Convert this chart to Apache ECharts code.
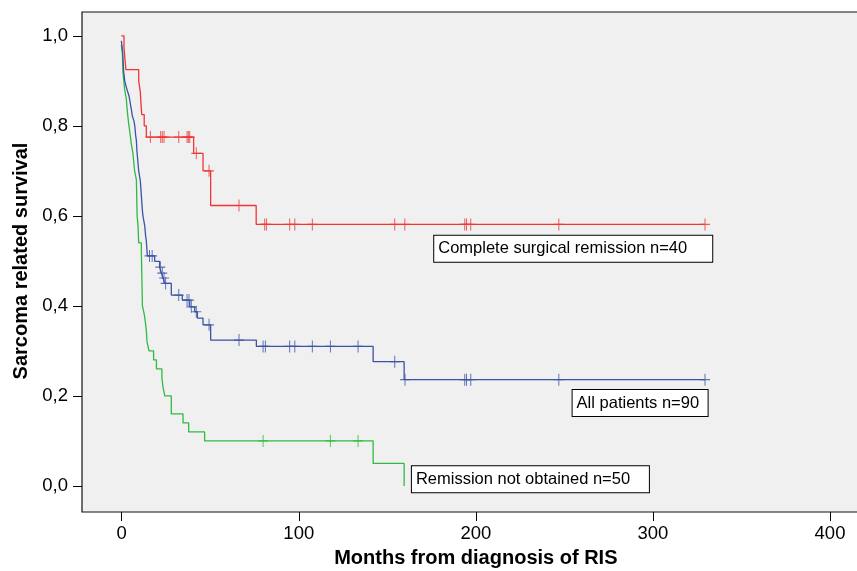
<!DOCTYPE html>
<html>
<head>
<meta charset="utf-8">
<script src="https://cdn.jsdelivr.net/npm/echarts@6/dist/echarts.min.js"></script>
<style>
  html, body { margin: 0; padding: 0; background: #fff; }
  #chart { width: 857px; height: 571px; }
</style>
</head>
<body>
<div id="chart"></div>
<script>
// Kaplan-Meier steps: [months, survival after the drop]
const redSteps = [[0, 1], [1.5, 0.975], [2.0, 0.95], [2.6, 0.925], [9.8, 0.9], [10.7, 0.875], [11.5, 0.825],
  [12.9, 0.8], [14.1, 0.775], [40.8, 0.739], [46.1, 0.7], [50.4, 0.623], [76.1, 0.581], [329.4, 0.581]];
const redCensor = [16.4, 22.2, 23.1, 24.1, 32.4, 37.1, 37.8, 38.6, 42.3, 49.5, 66.4, 80.9, 81.9, 95, 97.9,
  107.8, 154.3, 160, 193.8, 194.8, 197.2, 246.9, 329.4];

const blueSteps = [[0, 0.989], [0.7, 0.967], [1.0, 0.944], [1.3, 0.922], [1.9, 0.9], [2.6, 0.889], [3.4, 0.878],
  [4.3, 0.867], [4.8, 0.856], [5.3, 0.844], [5.8, 0.833], [6.2, 0.822], [7.1, 0.811], [7.6, 0.8], [8.1, 0.778],
  [8.5, 0.767], [8.8, 0.744], [9.3, 0.722], [9.8, 0.7], [10.7, 0.678], [11.1, 0.656], [11.5, 0.633],
  [11.9, 0.611], [12.2, 0.6], [13.2, 0.578], [13.7, 0.556], [14.1, 0.544], [14.5, 0.522], [14.7, 0.511],
  [18.8, 0.499], [21.6, 0.486], [22.6, 0.473], [23.6, 0.462], [24.4, 0.45], [28.2, 0.424], [34.4, 0.413],
  [38.6, 0.398], [41.4, 0.387], [42.9, 0.373], [46.1, 0.358], [50.4, 0.324], [76.2, 0.31], [142.1, 0.276],
  [159.6, 0.236], [329.4, 0.236]];
const blueCensor = [15.9, 17.4, 22.0, 23.1, 24.1, 25.0, 32.4, 37.1, 38.2, 39.5, 42.3, 49.5, 66.4, 80.0, 81.3,
  95, 97.9, 107.8, 118, 133.6, 154.3, 160.1, 193.8, 194.8, 197.2, 246.9, 329.4];

const greenSteps = [[0, 0.98], [0.6, 0.96], [0.9, 0.92], [1.4, 0.9], [1.9, 0.88], [2.8, 0.86], [3.2, 0.84],
  [3.7, 0.82], [4.3, 0.8], [5.0, 0.78], [5.6, 0.76], [6.5, 0.74], [7.0, 0.72], [7.5, 0.7], [8.5, 0.68],
  [8.7, 0.64], [8.9, 0.6], [9.4, 0.58], [9.8, 0.54], [11.3, 0.52], [11.5, 0.48], [11.7, 0.44], [11.9, 0.4],
  [13.0, 0.38], [13.7, 0.36], [14.2, 0.34], [14.5, 0.32], [15.6, 0.3], [18.2, 0.28], [19.8, 0.26],
  [22.9, 0.24], [23.5, 0.22], [24.5, 0.2], [28.2, 0.16], [34.8, 0.14], [38.0, 0.12], [47.0, 0.1],
  [142.1, 0.05], [159.6, 0]];
const greenCensor = [80.0, 118.0, 133.6];

const groupLabels = ['Complete surgical remission n=40', 'All patients n=90', 'Remission not obtained n=50'];
const xName = 'Months from diagnosis of RIS';
const yName = 'Sarcoma related survival';

const FONT = "'Liberation Sans', Arial, sans-serif";
const RED = '#ee3636', BLUE = '#3b52a6', GREEN = '#2fba40';
// plus-shaped censor tick
const PLUS = 'path://M45,0H55V100H45ZM0,45H100V55H0Z';

// survival level of a curve at time t (for placing censor ticks on it)
const survAt = (steps, t) => {
    let s = steps[0][1];
    steps.forEach(([m, v]) => { if (m <= t) s = v; });
    return s;
};

const curve = (name, steps, color, label) => ({
    name, type: 'line', step: 'end', data: steps, symbol: 'none',
    xAxisIndex: 0, yAxisIndex: 0,
    lineStyle: { color, width: 1.3 },
    markPoint: {
        symbol: 'rect', symbolSize: 1, itemStyle: { color: 'rgba(0,0,0,0)' },
        data: [{
            coord: label.at,
            label: {
                show: true, position: 'right', distance: 0, formatter: label.text,
                fontFamily: FONT, fontSize: 16.5, color: '#000', lineHeight: 19,
                width: label.w, align: 'left',
                backgroundColor: '#fff', borderColor: '#000', borderWidth: 1, padding: [4, 4, 3, 4]
            }
        }]
    }
});

const ticks = (name, steps, times, color) => ({
    name, type: 'scatter', xAxisIndex: 0, yAxisIndex: 0,
    data: times.map(t => [t, survAt(steps, t)]),
    symbol: PLUS, symbolSize: [10, 12],
    itemStyle: { color }
});

// grid 0: frame + data (right edge runs past the page); grid 1: x ticks; grid 2: y ticks
const tickStyle = { show: true, inside: false, length: 9, lineStyle: { color: '#000', width: 1 } };
const nameStyle = { color: '#000', fontFamily: FONT, fontWeight: 'bold', fontSize: 20 };
const labelStyle = { color: '#000', fontFamily: FONT, fontSize: 18.5 };

const chart = echarts.init(document.getElementById('chart'));
chart.setOption({
    animation: false,
    backgroundColor: '#fff',
    grid: [
        { left: 82, top: 12, right: -5, bottom: 59, show: true, backgroundColor: '#f0f0f0',
          borderColor: '#111', borderWidth: 1.2, outerBoundsMode: 'none' },
        { left: 121.7, right: 27, top: 12, bottom: 59, outerBoundsMode: 'none' },
        { left: 82, right: 0, top: 36, bottom: 85, outerBoundsMode: 'none' }
    ],
    xAxis: [
        { type: 'value', gridIndex: 0, min: -22.2, max: 418.0, show: false },
        { type: 'value', gridIndex: 1, min: 0, max: 400, interval: 100, position: 'bottom',
          axisLine: { show: false }, splitLine: { show: false }, axisTick: tickStyle,
          axisLabel: { ...labelStyle, margin: 12 },
          name: xName, nameLocation: 'middle', nameGap: 36, nameTextStyle: nameStyle },
        { type: 'value', gridIndex: 2, show: false }
    ],
    yAxis: [
        { type: 'value', gridIndex: 0, min: -0.058, max: 1.053, show: false },
        { type: 'value', gridIndex: 1, show: false },
        { type: 'value', gridIndex: 2, min: 0, max: 1, interval: 0.2, position: 'left',
          axisLine: { show: false }, splitLine: { show: false }, axisTick: tickStyle,
          axisLabel: { ...labelStyle, margin: 14, formatter: v => v.toFixed(1).replace('.', ',') },
          name: yName, nameLocation: 'middle', nameGap: 50, nameTextStyle: nameStyle }
    ],
    series: [
        curve('Remission not obtained', greenSteps, GREEN, { text: groupLabels[2], at: [163.7, 0.015], w: 229 }),
        ticks('Remission not obtained censored', greenSteps, greenCensor, GREEN),
        curve('All patients', blueSteps, BLUE, { text: groupLabels[1], at: [254.4, 0.184], w: 127 }),
        ticks('All patients censored', blueSteps, blueCensor, BLUE),
        curve('Complete surgical remission', redSteps, RED, { text: groupLabels[0], at: [176.3, 0.527], w: 270 }),
        ticks('Complete surgical remission censored', redSteps, redCensor, RED)
    ]
});
</script>
</body>
</html>
